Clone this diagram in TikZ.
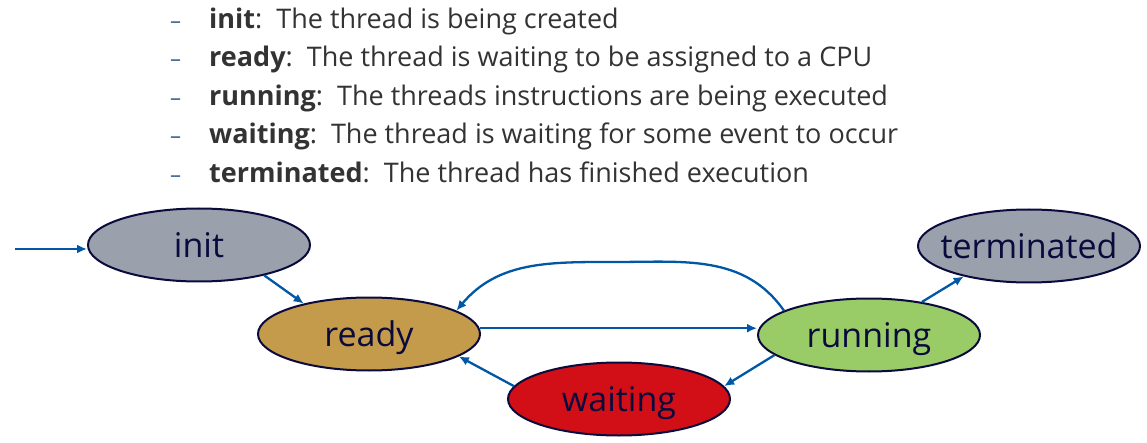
\documentclass[tikz,border=0pt]{standalone}
\usepackage{fontspec}
\setmainfont{Open Sans}
\usetikzlibrary{shapes.geometric, arrows.meta}

\definecolor{flowblue}{HTML}{0057A6}
\definecolor{rimnavy}{HTML}{0A0A3C}
\definecolor{initgray}{HTML}{9BA1AC}
\definecolor{readygold}{HTML}{C49A4B}
\definecolor{rungreen}{HTML}{99CC66}
\definecolor{waitred}{HTML}{D20F17}
\definecolor{bodygray}{HTML}{333333}
\definecolor{dashblue}{HTML}{3F6496}

\begin{document}
\begin{tikzpicture}[x=1pt, y=-1pt,
      state/.style = {ellipse, draw=rimnavy, line width=2pt, text=rimnavy,
                      minimum width=222pt, minimum height=73pt, inner sep=0pt,
                      text height=25pt, text depth=0pt,
                      font=\fontsize{34}{40}\selectfont},
      flow/.style  = {draw=flowblue, line width=2.3pt, -{Latex[length=10pt,width=9pt]}},
      item/.style  = {anchor=base west, inner sep=0pt, text=bodygray,
                      font=\fontsize{27}{32}\selectfont},
      bullet/.style = {anchor=base west, inner sep=0pt, text=dashblue,
                      font=\fontsize{22}{26}\selectfont} ]
   \useasboundingbox (0,0) rectangle (1147,443);

   % list of states
   \node (d1) [bullet] at (170,29)  {--};
   \node (t1) [item]   at (209,29)  {\textbf{init}:\ \ The thread is being created};
   \node (d2) [bullet] at (170,67)  {--};
   \node (t2) [item]   at (209,67)  {\textbf{ready}:\ \ The thread is waiting to be assigned to a CPU};
   \node (d3) [bullet] at (170,106) {--};
   \node (t3) [item]   at (209,106) {\textbf{running}:\ \ The threads instructions are being executed};
   \node (d4) [bullet] at (170,144) {--};
   \node (t4) [item]   at (209,144) {\textbf{waiting}:\ \ The thread is waiting for some event to occur};
   \node (d5) [bullet] at (170,183) {--};
   \node (t5) [item]   at (209,183) {\textbf{terminated}:\ \ The thread has finished execution};

   % states
   \node (init)    [state, fill=initgray]  at (199,245)  {init};
   \node (ready)   [state, fill=readygold] at (369,334)  {ready};
   \node (running) [state, fill=rungreen]  at (869,335)  {running};
   \node (waiting) [state, fill=waitred]   at (619,399)  {waiting};
   \node (term)    [state, fill=initgray]  at (1029,246) {\makebox[0pt]{terminated}};

   % transitions
   \coordinate (entry) at (15,249);
   \coordinate (loop)  at (615,262);
   \draw[flow] (entry) -- (entry -| init.west);
   \draw[flow] (init.335) -- (ready.155);
   \draw[flow] (ready.3) -- (ready.3 -| running.west);
   \draw[flow] (running.164) to[out=125, in=0] (loop) to[out=180, in=50] (ready.15);
   \draw[flow] (running.192) -- (waiting.7);
   \draw[flow] (waiting.173) -- (ready.346);
   \draw[flow] (running.32) -- (term.205);
\end{tikzpicture}
\end{document}
